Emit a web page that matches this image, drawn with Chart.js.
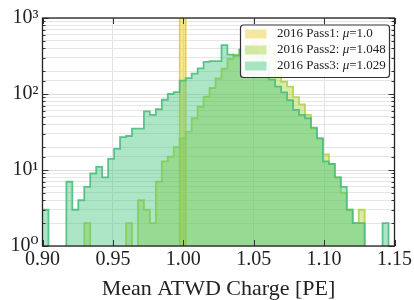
<!DOCTYPE html>
<html><head><meta charset="utf-8">
<script src="https://cdn.jsdelivr.net/npm/chart.js@4/dist/chart.umd.min.js"></script>
<style>html,body{margin:0;padding:0;background:#fff;} #c{display:block;}</style>
</head><body>
<canvas id="c" width="414" height="300"></canvas>
<script>
// ---- data ----
const BIN_MIN = 0.90, BIN_MAX = 1.15, N_BINS = 59;
const xTickValues = [0.90, 0.95, 1.00, 1.05, 1.10, 1.15];
const yTickLabels = {1: '10⁰', 10: '10¹', 100: '10²', 1000: '10³'};
const seriesNames = ['2016 Pass1: ', '2016 Pass2: ', '2016 Pass3: '];
const seriesMu = ['1.0', '1.048', '1.029'];
const xTitle = 'Mean ATWD Charge [PE]';

const pass1 = [
  0,0,0,0,0,0,0,0,0,0,
  0,0,0,0,0,0,0,0,0,0,
  0,0,0,5000,0,0,0,0,0,0,
  0,0,0,0,0,0,0,0,0,0,
  0,0,0,0,0,0,0,0,0,0,
  0,0,0,0,0,0,0,0,0
];
const pass2 = [
  0,0,0,0,0,0,0,2,0,0,
  0,0,0,0,2,0,4,3,2,7,
  13,15,20,26,32,48,68,92,120,160,
  215,290,330,390,430,460,470,440,380,170,
  145,125,91,73,53,35,26,16,12,8,
  5,3,2,3,0,0,0,0,0
];
const pass3 = [
  3,0,0,0,7,3,4,6,9,11,
  8,14,19,27,28,35,35,59,53,63,
  84,100,106,150,162,185,217,265,270,270,
  440,330,320,380,400,370,320,250,155,125,
  105,83,62,53,48,36,26,13,12,8,
  6,3,2,2,0,0,0,2,0
];

// ---- helpers ----
const FLOOR = 0.5; // empty bins drawn below the axis floor
const edges = Array.from({length: N_BINS + 1}, (_, k) => BIN_MIN + k * (BIN_MAX - BIN_MIN) / N_BINS);
function stepPoints(counts) {
  const pts = counts.map((c, k) => ({x: edges[k], y: c > 0 ? c : FLOOR}));
  pts.push({x: edges[N_BINS], y: FLOOR});
  return pts;
}

const fills = ['rgba(232,205,40,0.45)', 'rgba(165,205,50,0.42)', 'rgba(60,195,120,0.42)'];
const lines = ['rgba(228,200,40,0.8)', 'rgba(180,212,70,0.9)', 'rgba(75,190,125,0.9)'];
const SERIF = "'Liberation Serif', 'DejaVu Serif', serif";

const framePlugin = {
  id: 'frame',
  afterDatasetsDraw(chart) {
    const {ctx, chartArea: a, scales} = chart;
    ctx.save();
    ctx.strokeStyle = '#333';
    ctx.lineWidth = 1;
    // inward ticks
    ctx.beginPath();
    scales.x.ticks.forEach(t => {
      const px = Math.round(scales.x.getPixelForValue(t.value)) + 0.5;
      ctx.moveTo(px, a.bottom); ctx.lineTo(px, a.bottom - 6);
      ctx.moveTo(px, a.top); ctx.lineTo(px, a.top + 6);
    });
    scales.y.ticks.forEach(t => {
      const py = Math.round(scales.y.getPixelForValue(t.value)) + 0.5;
      const len = t.major ? 6 : 3;
      ctx.moveTo(a.left, py); ctx.lineTo(a.left + len, py);
      ctx.moveTo(a.right, py); ctx.lineTo(a.right - len, py);
    });
    ctx.stroke();
    ctx.strokeStyle = '#222';
    ctx.lineWidth = 1.3;
    ctx.strokeRect(a.left, a.top, a.right - a.left, a.bottom - a.top);
    ctx.restore();
  },
  afterDraw(chart) {
    const {ctx} = chart;
    const bx = 240.5, by = 25, bw = 149, bh = 52.5;
    ctx.save();
    ctx.beginPath();
    ctx.roundRect(bx, by, bw, bh, 3);
    ctx.fillStyle = 'rgba(255,255,255,0.92)';
    ctx.fill();
    ctx.strokeStyle = '#333';
    ctx.lineWidth = 1.2;
    ctx.stroke();
    const rows = [34, 50, 66];
    ctx.textBaseline = 'middle';
    rows.forEach((cy, i) => {
      ctx.fillStyle = fills[i];
      ctx.fillRect(245, cy - 4.5, 21.5, 9);
      let x = 277;
      ctx.fillStyle = '#222';
      ctx.font = "13px " + SERIF;
      ctx.fillText(seriesNames[i], x, cy);
      x += ctx.measureText(seriesNames[i]).width;
      ctx.font = "italic 13px " + SERIF;
      ctx.fillText('μ', x, cy);
      x += ctx.measureText('μ').width;
      ctx.font = "13px " + SERIF;
      ctx.fillText('=' + seriesMu[i], x, cy);
    });
    ctx.restore();
  }
};

const datasets = [pass1, pass2, pass3].map((d, i) => ({
  label: seriesNames[i] + 'μ=' + seriesMu[i],
  data: stepPoints(d),
  stepped: true,
  fill: 'start',
  backgroundColor: fills[i],
  borderColor: lines[i],
  borderWidth: 1.8,
  pointRadius: 0,
  tension: 0,
  order: 3 - i
}));

new Chart(document.getElementById('c').getContext('2d'), {
  type: 'line',
  data: {datasets},
  options: {
    responsive: false,
    animation: false,
    events: [],
    layout: {padding: {top: 18, right: 19, left: 0, bottom: 0}},
    plugins: {legend: {display: false}, tooltip: {enabled: false}},
    scales: {
      x: {
        type: 'linear', min: BIN_MIN, max: BIN_MAX,
        afterBuildTicks: s => { s.ticks = xTickValues.map(v => ({value: v})); },
        ticks: {
          callback: v => Number(v).toFixed(2),
          font: {family: SERIF, size: 20}, color: '#222', padding: 2,
          maxRotation: 0, autoSkip: false
        },
        grid: {color: '#e2e2e2', drawTicks: false},
        border: {display: false},
        title: {display: true, text: xTitle, color: '#222',
                font: {family: SERIF, size: 22, lineHeight: 1}, padding: 0},
        afterFit: s => { s.height = 54; }
      },
      y: {
        type: 'logarithmic', min: 1, max: 1000,
        ticks: {
          autoSkip: false,
          callback: v => { const r = Math.round(v); return (Math.abs(v - r) < 1e-9 && yTickLabels[r]) ? yTickLabels[r] : ''; },
          font: {family: SERIF, size: 20}, color: '#222', padding: 4
        },
        grid: {color: c => (c.tick && c.tick.major) ? '#dcdcdc' : '#e6e6e6', drawTicks: false},
        border: {display: false},
        afterFit: s => { s.width = 42.5; }
      }
    }
  },
  plugins: [framePlugin]
});
</script>
</body></html>
